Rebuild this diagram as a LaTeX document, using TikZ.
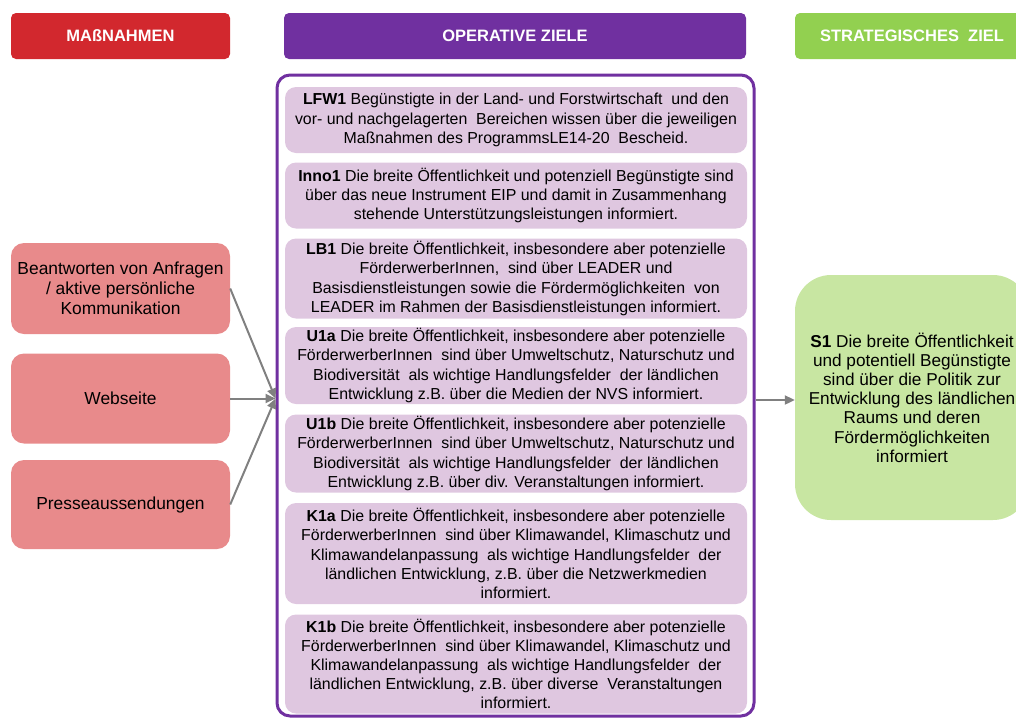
\documentclass[tikz,border=0pt]{standalone}
\usepackage{fontspec}
\setmainfont{Liberation Sans}
\usetikzlibrary{arrows.meta}
\definecolor{hdrred}{HTML}{D2282E}
\definecolor{hdrpurple}{HTML}{7030A0}
\definecolor{hdrgreen}{HTML}{92D050}
\definecolor{boxred}{HTML}{E88A8B}
\definecolor{boxpurple}{HTML}{DFC7E0}
\definecolor{boxgreen}{HTML}{C8E6A2}
\definecolor{arrowgray}{HTML}{808080}
\tikzset{
  header/.style={rounded corners=5pt, inner sep=0pt, text=white,
    font=\fontsize{16.5}{18}\selectfont\bfseries},
  massbox/.style={fill=boxred, rounded corners=13pt, inner sep=0pt,
    minimum width=219pt, align=center, font=\fontsize{17.4}{20}\selectfont},
  opbox/.style={fill=boxpurple, rounded corners=11pt, inner sep=0pt,
    minimum width=462pt, align=center, font=\fontsize{15.9}{19.2}\selectfont},
  conn/.style={draw=arrowgray, line width=2pt, -{Triangle[length=10pt,width=9pt]}}
}
\begin{document}
\begin{tikzpicture}[x=1pt,y=-1pt]
\useasboundingbox (0,0) rectangle (1016,718);
% headers
\node[header, fill=hdrred, minimum width=219pt, minimum height=46pt] (h1) at (120.5,36) {MAßNAHMEN};
\node[header, fill=hdrpurple, minimum width=462pt, minimum height=46pt] (h2) at (515,36) {OPERATIVE ZIELE};
\node[header, fill=hdrgreen, minimum width=234pt, minimum height=46pt] (h3) at (912,36) {STRATEGISCHES\ \ ZIEL};
% container
\node[draw=hdrpurple, line width=3pt, rounded corners=13pt, inner sep=0pt,
  minimum width=477pt, minimum height=641pt] (ops) at (515.5,395.5) {};
% inner boxes
\node[opbox, minimum height=66pt] (lfw1) at (516,120) {\textbf{LFW1} Begünstigte in der Land- und Forstwirtschaft\ \ und den\\vor- und nachgelagerten\ \ Bereichen wissen über die jeweiligen\\Maßnahmen des ProgrammsLE14-20\ \ Bescheid.};
\node[opbox, minimum height=66pt] (inno1) at (516,195.5) {\textbf{Inno1} Die breite Öffentlichkeit und potenziell Begünstigte sind\\über das neue Instrument EIP und damit in Zusammenhang\\stehende Unterstützungsleistungen informiert.};
\node[opbox, minimum height=80pt] (lb1) at (516,278.5) {\textbf{LB1} Die breite Öffentlichkeit, insbesondere aber potenzielle\\FörderwerberInnen,\ \ sind über LEADER und\\Basisdienstleistungen sowie die Fördermöglichkeiten\ \ von\\LEADER im Rahmen der Basisdienstleistungen informiert.};
\node[opbox, minimum height=77pt] (u1a) at (516,365.5) {\textbf{U1a} Die breite Öffentlichkeit, insbesondere aber potenzielle\\FörderwerberInnen\ \ sind über Umweltschutz, Naturschutz und\\Biodiversität\ \ als wichtige Handlungsfelder\ \ der ländlichen\\Entwicklung z.B. über die Medien der NVS informiert.};
\node[opbox, minimum height=78pt] (u1b) at (516,453.5) {\textbf{U1b} Die breite Öffentlichkeit, insbesondere aber potenzielle\\FörderwerberInnen\ \ sind über Umweltschutz, Naturschutz und\\Biodiversität\ \ als wichtige Handlungsfelder\ \ der ländlichen\\Entwicklung z.B. über div. Veranstaltungen informiert.};
\node[opbox, minimum height=101pt] (k1a) at (516,553.5) {\textbf{K1a} Die breite Öffentlichkeit, insbesondere aber potenzielle\\FörderwerberInnen\ \ sind über Klimawandel, Klimaschutz und\\Klimawandelanpassung\ \ als wichtige Handlungsfelder\ \ der\\ländlichen Entwicklung, z.B. über die Netzwerkmedien\\informiert.};
\node[opbox, minimum height=99pt] (k1b) at (516,664) {\textbf{K1b} Die breite Öffentlichkeit, insbesondere aber potenzielle\\FörderwerberInnen\ \ sind über Klimawandel, Klimaschutz und\\Klimawandelanpassung\ \ als wichtige Handlungsfelder\ \ der\\ländlichen Entwicklung, z.B. über diverse\ \ Veranstaltungen\\informiert.};
% left boxes
\node[massbox, minimum height=91pt] (m1) at (120.5,288.5) {Beantworten von Anfragen\\/ aktive persönliche\\Kommunikation};
\node[massbox, minimum height=90pt] (m2) at (120.5,398.5) {Webseite};
\node[massbox, minimum height=89pt] (m3) at (120.5,504.5) {Presseaussendungen};
% strategic goal
\node[fill=boxgreen, rounded corners=36pt, inner sep=0pt, minimum width=234pt,
  minimum height=245pt, align=center, font=\fontsize{17.2}{19.2}\selectfont] (s1) at (912,397.5)
  {\textbf{S1} Die breite Öffentlichkeit\\und potentiell Begünstigte\\sind über die Politik\ zur\\Entwicklung\ des ländlichen\\Raums und deren\\Fördermöglichkeiten\\informiert};
% connectors
\coordinate (hub) at (ops.west |- m2.east);
\coordinate (out) at (ops.east |- 0,400);
\draw[conn] (m1.east) -- (hub);
\draw[conn] (m2.east) -- (hub);
\draw[conn] (m3.east) -- (hub);
\draw[conn] (out) -- (s1.west |- out);
\end{tikzpicture}
\end{document}
